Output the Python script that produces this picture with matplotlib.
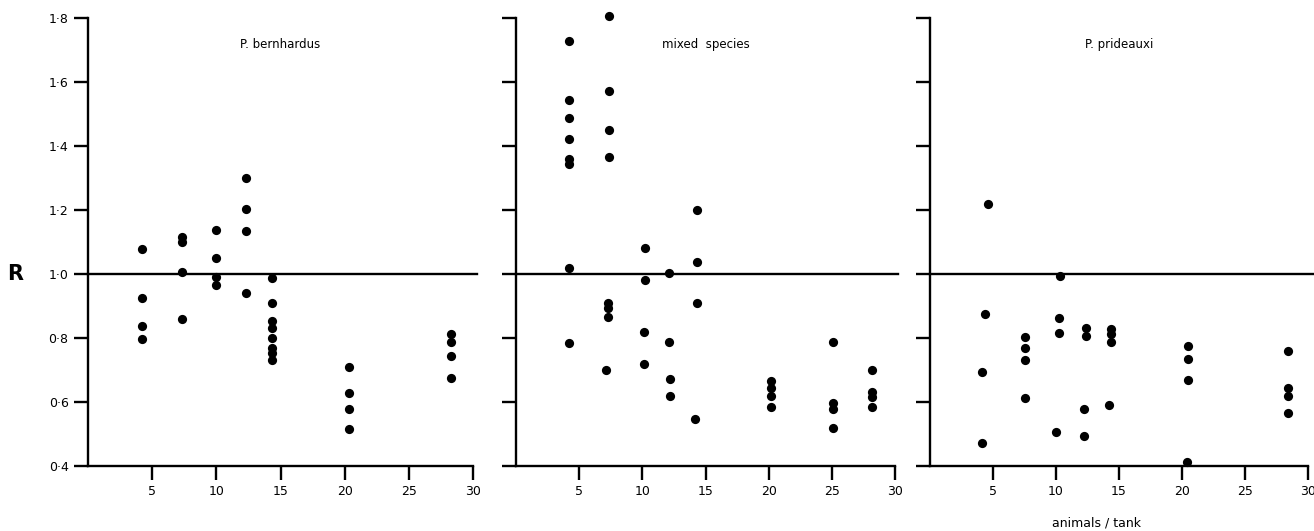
#!/usr/bin/env python3
"""Ratio R against animals per tank for three hermit crab groupings."""

import matplotlib

matplotlib.use("Agg")
import matplotlib.pyplot as plt
import matplotlib.ticker as mticker

# P. bernhardus
BERN_X = [4.2, 4.2, 4.2, 4.2,
          7.3, 7.3, 7.3, 7.3,
          10.0, 10.0, 10.0, 10.0,
          12.3, 12.3, 12.3, 12.3,
          14.3, 14.3, 14.3, 14.3, 14.3, 14.3, 14.3, 14.3,
          20.3, 20.3, 20.3, 20.3,
          28.3, 28.3, 28.3, 28.3]
BERN_R = [1.077, 0.924, 0.838, 0.796,
          1.115, 1.100, 1.007, 0.858,
          1.138, 1.050, 0.990, 0.966,
          1.299, 1.202, 1.135, 0.940,
          0.988, 0.910, 0.853, 0.830, 0.799, 0.768, 0.752, 0.731,
          0.708, 0.627, 0.578, 0.515,
          0.811, 0.789, 0.744, 0.674]

# mixed species
MIXED_X = [4.2, 4.2, 4.2, 4.2, 4.2, 4.2, 4.2, 4.2,
           7.4, 7.4, 7.4, 7.4, 7.3, 7.3, 7.3, 7.1,
           10.2, 10.2, 10.1, 10.1,
           12.1, 12.1, 12.2, 12.2,
           14.3, 14.3, 14.3, 14.2,
           20.2, 20.2, 20.2, 20.2,
           25.1, 25.1, 25.1, 25.1,
           28.2, 28.2, 28.2, 28.2]
MIXED_R = [1.729, 1.543, 1.488, 1.421, 1.359, 1.343, 1.020, 0.783,
           1.806, 1.572, 1.450, 1.367, 0.910, 0.893, 0.867, 0.701,
           1.082, 0.981, 0.820, 0.718,
           1.004, 0.789, 0.671, 0.619,
           1.199, 1.038, 0.910, 0.546,
           0.667, 0.643, 0.619, 0.585,
           0.789, 0.598, 0.577, 0.520,
           0.700, 0.630, 0.615, 0.585]

# P. prideauxi
PRID_X = [4.6, 4.4, 4.1, 4.1,
          7.5, 7.5, 7.5, 7.5,
          10.3, 10.2, 10.2, 10.0,
          12.4, 12.4, 12.2, 12.2,
          14.4, 14.4, 14.4, 14.2,
          20.5, 20.5, 20.5, 20.4,
          28.4, 28.4, 28.4, 28.4]
PRID_R = [1.218, 0.875, 0.693, 0.471,
          0.802, 0.768, 0.731, 0.611,
          0.994, 0.862, 0.815, 0.507,
          0.832, 0.807, 0.578, 0.495,
          0.827, 0.812, 0.789, 0.591,
          0.776, 0.734, 0.669, 0.413,
          0.760, 0.643, 0.620, 0.565]

PANELS = [
    ("P. bernhardus", BERN_X, BERN_R),
    ("mixed  species", MIXED_X, MIXED_R),
    ("P. prideauxi", PRID_X, PRID_R),
]

X_TICKS = [5, 10, 15, 20, 25, 30]
Y_TICKS = [0.4, 0.6, 0.8, 1.0, 1.2, 1.4, 1.6, 1.8]

W, H = 1314, 531
AX_BOXES = [(88, 473), (516, 895), (930, 1308)]
LINE_END = [30.3, 30.2, 30.6]  # how far the R = 1 line runs past the last tick
AX_TOP, AX_BOTTOM = 18, 466

plt.rcParams["font.family"] = ["DejaVu Sans"]
fig = plt.figure(figsize=(W / 100, H / 100), dpi=100)

for i, ((title, xs, rs), (left, right)) in enumerate(zip(PANELS, AX_BOXES)):
    ax = fig.add_axes([left / W, 1 - AX_BOTTOM / H, (right - left) / W, (AX_BOTTOM - AX_TOP) / H])
    ax.set_xlim(0, 30)
    ax.set_ylim(0.4, 1.8)
    for side in ("top", "right"):
        ax.spines[side].set_visible(False)
    for side in ("left", "bottom"):
        ax.spines[side].set_linewidth(1.7)
    ax.set_xticks(X_TICKS)
    ax.set_yticks(Y_TICKS)
    ax.tick_params(axis="both", direction="out", length=10, width=1.7, labelsize=9, pad=4)
    if i == 0:
        ax.yaxis.set_major_formatter(
            mticker.FuncFormatter(lambda v, _: f"{v:.1f}".replace(".", "\u00b7"))
        )
    else:
        ax.set_yticklabels([])

    ax.plot([0, LINE_END[i]], [1.0, 1.0], color="black", lw=1.7, clip_on=False, zorder=2)
    ax.scatter(xs, rs, s=44, color="black", zorder=3, clip_on=False, linewidths=0)
    ax.text(0.5, 0.94, title, transform=ax.transAxes, ha="center", va="center",
            fontsize=8.5, fontweight="medium")

fig.text(15 / W, 1 - 274 / H, "R", ha="center", va="center", fontsize=15, fontweight="bold")
fig.text(1096 / W, 1 - 523 / H, "animals / tank", ha="center", va="center", fontsize=9)

fig.savefig("out.png", dpi=100, facecolor="white")
